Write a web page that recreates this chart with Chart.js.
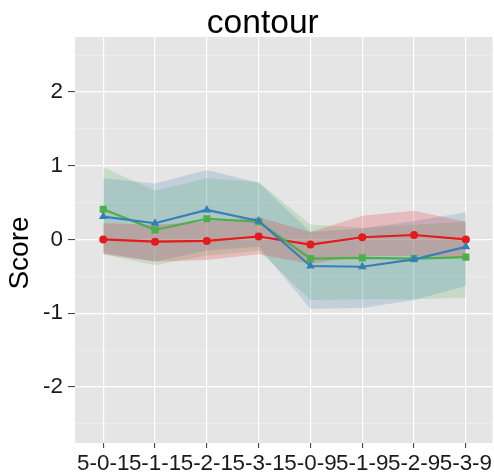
<!DOCTYPE html>
<html>
<head>
<meta charset="utf-8">
<script src="https://cdn.jsdelivr.net/npm/chart.js@4"></script>
<style>
  html, body { margin: 0; padding: 0; background: #fff; }
  #wrap { width: 494px; height: 472px; }
</style>
</head>
<body>
<div id="wrap"><canvas id="contourChart" width="494" height="472"></canvas></div>
<script>
const categories = ['5-0-1', '5-1-1', '5-2-1', '5-3-1', '5-0-9', '5-1-9', '5-2-9', '5-3-9'];
const yTickLabels = [-2, -1, 0, 1, 2];
const yMinorBreaks = [-2.5, -1.5, -0.5, 0.5, 1.5, 2.5];

const redMean = [0.00, -0.03, -0.02, 0.04, -0.07, 0.03, 0.06, 0.00];
const redUpper = [0.22, 0.20, 0.24, 0.30, 0.10, 0.32, 0.39, 0.24];
const redLower = [-0.20, -0.30, -0.28, -0.20, -0.33, -0.22, -0.22, -0.24];

const blueMean = [0.31, 0.22, 0.40, 0.25, -0.36, -0.37, -0.27, -0.10];
const blueUpper = [0.83, 0.76, 0.94, 0.77, 0.10, 0.15, 0.25, 0.37];
const blueLower = [-0.18, -0.30, -0.15, -0.10, -0.94, -0.93, -0.82, -0.63];

const greenMean = [0.41, 0.13, 0.28, 0.24, -0.26, -0.25, -0.26, -0.24];
const greenUpper = [0.98, 0.66, 0.83, 0.78, 0.20, 0.16, 0.20, 0.24];
const greenLower = [-0.20, -0.35, -0.22, -0.15, -0.82, -0.81, -0.81, -0.79];

const FONT = "'Liberation Sans', Arial, Helvetica, sans-serif";
const RED = '#E41A1C', BLUE = '#377EB8', GREEN = '#4DAF4A';

function pts(values) {
    return values.map((v, i) => ({ x: i, y: v }));
}

function ribbon(upper, lower, color) {
    const base = { borderWidth: 0, borderColor: 'rgba(0,0,0,0)', pointRadius: 0, tension: 0 };
    return [
        Object.assign({ data: pts(upper), fill: '+1', backgroundColor: color }, base),
        Object.assign({ data: pts(lower), fill: false }, base)
    ];
}

function line(values, color, style, radius) {
    return {
        data: pts(values),
        borderColor: color,
        backgroundColor: color,
        borderWidth: 2.2,
        pointStyle: style,
        pointRadius: radius,
        pointBorderWidth: 0,
        fill: false,
        tension: 0
    };
}

// grey panel, title and rotated y title (placed like ggplot does)
const panelDecor = {
    id: 'panelDecor',
    beforeDraw(chart) {
        const { ctx, chartArea: a } = chart;
        ctx.save();
        ctx.fillStyle = '#E5E5E5';
        ctx.fillRect(a.left, a.top, a.right - a.left, a.bottom - a.top);
        ctx.restore();
    },
    afterDraw(chart) {
        const { ctx, chartArea: a } = chart;
        ctx.save();
        ctx.fillStyle = '#000';
        ctx.font = '33.6px ' + FONT;
        ctx.textAlign = 'center';
        ctx.textBaseline = 'alphabetic';
        ctx.fillText('contour', (a.left + a.right) / 2 - 21, 33);

        ctx.font = '28px ' + FONT;
        ctx.translate(20, (a.top + a.bottom) / 2 + 13);
        ctx.rotate(-Math.PI / 2);
        ctx.textBaseline = 'middle';
        ctx.fillText('Score', 0, 0);
        ctx.restore();
    }
};

const isMajor = v => yTickLabels.includes(v);

new Chart(document.getElementById('contourChart'), {
    type: 'line',
    data: {
        datasets: [
            ...ribbon(redUpper, redLower, 'rgba(228,26,28,0.2)'),
            ...ribbon(blueUpper, blueLower, 'rgba(55,126,184,0.2)'),
            ...ribbon(greenUpper, greenLower, 'rgba(77,175,74,0.2)'),
            line(blueMean, BLUE, 'triangle', 5),
            line(greenMean, GREEN, 'rect', 5),
            line(redMean, RED, 'circle', 4)
        ]
    },
    options: {
        responsive: false,
        animation: false,
        layout: { padding: { top: 37, left: 0, right: 0, bottom: 0 }, autoPadding: false },
        plugins: {
            legend: { display: false },
            tooltip: { enabled: false },
            filler: { drawTime: 'beforeDatasetsDraw' }
        },
        scales: {
            x: {
                type: 'linear',
                min: -0.545,
                max: 7.515,
                afterBuildTicks: scale => { scale.ticks = categories.map((c, i) => ({ value: i })); },
                afterFit: scale => { scale.height = 29; },
                border: { display: false },
                grid: { color: '#fff', lineWidth: 1.2, tickColor: '#333', tickLength: 5, tickWidth: 1 },
                ticks: {
                    autoSkip: false,
                    maxRotation: 0,
                    padding: 2,
                    color: '#1a1a1a',
                    font: { family: FONT, size: 22.4 },
                    callback: v => categories[v]
                }
            },
            y: {
                type: 'linear',
                min: -2.76,
                max: 2.745,
                afterBuildTicks: scale => {
                    scale.ticks = yMinorBreaks.concat(yTickLabels).sort((a, b) => a - b).map(v => ({ value: v }));
                },
                afterFit: scale => { scale.width = 75; },
                border: { display: false },
                grid: {
                    color: ctx => (ctx.tick && isMajor(ctx.tick.value)) ? '#fff' : '#F2F2F2',
                    lineWidth: ctx => (ctx.tick && isMajor(ctx.tick.value)) ? 1.2 : 0.6,
                    tickColor: ctx => (ctx.tick && isMajor(ctx.tick.value)) ? '#333' : 'rgba(0,0,0,0)',
                    tickLength: 7,
                    tickWidth: 1
                },
                ticks: {
                    autoSkip: false,
                    padding: 5,
                    color: '#1a1a1a',
                    font: { family: FONT, size: 22.4 },
                    callback: v => isMajor(v) ? String(v) : ''
                }
            }
        }
    },
    plugins: [panelDecor]
});
</script>
</body>
</html>
